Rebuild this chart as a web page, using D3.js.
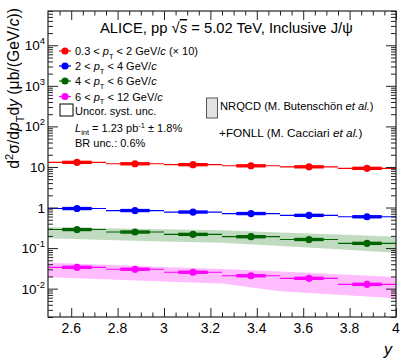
<!DOCTYPE html>
<html><head><meta charset="utf-8">
<script src="https://cdn.jsdelivr.net/npm/d3@7"></script>
<style>
body{margin:0;background:#fff;}
svg{display:block;font-family:"Liberation Sans",Arial,Helvetica,sans-serif;}
</style></head>
<body>
<svg id="c" width="407" height="362"></svg>
<script>
// ---------- data ----------
const binEdges = [2.5, 2.75, 3.0, 3.25, 3.5, 3.75, 4.0];
const binCenters = [2.625, 2.875, 3.125, 3.375, 3.625, 3.875];
const seriesNames = ["0.3 < pT < 2 GeV/c (× 10)", "2 < pT < 4 GeV/c", "4 < pT < 6 GeV/c", "6 < pT < 12 GeV/c"];
const seriesColors = ["#ff0000", "#0000ff", "#006400", "#ff00ff"];
const valsPt0 = [13.0, 12.0, 11.4, 10.7, 10.1, 9.25];
const valsPt1 = [0.945, 0.843, 0.774, 0.711, 0.642, 0.593];
const valsPt2 = [0.287, 0.249, 0.218, 0.191, 0.163, 0.131];
const valsPt3 = [0.0336, 0.0301, 0.0254, 0.0208, 0.0180, 0.0128];
const systRel = [0.05, 0.05, 0.05, 0.05];
// NRQCD+FONLL bands at bin edges
const bandPt2Hi = [0.325, 0.307, 0.290, 0.276, 0.243, 0.216, 0.191];
const bandPt2Lo = [0.174, 0.159, 0.146, 0.135, 0.112, 0.0931, 0.0769];
const bandPt3Hi = [0.0436, 0.0387, 0.0343, 0.0305, 0.0264, 0.0225, 0.0193];
const bandPt3Lo = [0.0191, 0.0170, 0.0151, 0.0134, 0.00859, 0.00704, 0.00577];
const bandColors = ["#c0dbbf", "#ffbcff"];
const xTickValues = [2.6, 2.8, 3.0, 3.2, 3.4, 3.6, 3.8, 4.0];
const xTickLabels = ["2.6", "2.8", "3", "3.2", "3.4", "3.6", "3.8", "4"];
const yTickValues = [1e-2, 1e-1, 1, 10, 1e2, 1e3, 1e4];
const yTickBase = ["10", "10", "1", "10", "10", "10", "10"];
const yTickExp = ["-2", "-1", "", "", "2", "3", "4"];
const xDomain = [2.5, 4.0];
const yDomain = [2e-3, 7e4];

// ---------- layout ----------
const L = 48, R = 396, T = 11, B = 317;
const svg = d3.select("#c");
const x = d3.scaleLinear().domain(xDomain).range([L, R]);
const y = d3.scaleLog().domain(yDomain).range([B, T]);

const gPlot = svg.append("g");
svg.append("clipPath").attr("id", "cl").append("rect")
  .attr("x", L).attr("y", T).attr("width", R - L).attr("height", B - T);
gPlot.attr("clip-path", "url(#cl)");

// bands
const bands = [[bandPt2Lo, bandPt2Hi], [bandPt3Lo, bandPt3Hi]];
bands.forEach((b, i) => {
  const area = d3.area().x((d, k) => x(binEdges[k])).y0((d, k) => y(b[0][k])).y1((d, k) => y(b[1][k]));
  gPlot.append("path").datum(binEdges).attr("d", area).attr("fill", bandColors[i]).attr("stroke", "none");
});

// series
const allVals = [valsPt0, valsPt1, valsPt2, valsPt3];
allVals.forEach((vals, s) => {
  const col = seriesColors[s];
  const g = gPlot.append("g");
  g.selectAll("line.xe").data(vals).enter().append("line")
    .attr("x1", (d, i) => x(binEdges[i])).attr("x2", (d, i) => x(binEdges[i + 1]))
    .attr("y1", d => y(d)).attr("y2", d => y(d))
    .attr("stroke", col).attr("stroke-width", 1.2);
  g.selectAll("rect.sy").data(vals).enter().append("rect")
    .attr("x", (d, i) => x(binCenters[i] - 0.06))
    .attr("width", (d, i) => x(binCenters[i] + 0.06) - x(binCenters[i] - 0.06))
    .attr("y", d => y(d * (1 + systRel[s])))
    .attr("height", d => y(d * (1 - systRel[s])) - y(d * (1 + systRel[s])))
    .attr("fill", "none").attr("stroke", col).attr("stroke-width", 1.6);
  g.selectAll("circle").data(vals).enter().append("circle")
    .attr("cx", (d, i) => x(binCenters[i])).attr("cy", d => y(d))
    .attr("r", 3.6).attr("fill", col);
});

// ---------- axes ----------
const axCol = "#222";
function styleAxis(g) {
  g.select(".domain").remove();
  g.selectAll("line").attr("stroke", axCol).attr("stroke-width", 1);
  g.selectAll("text").remove();
}
const xMinor = d3.range(2.55, 4.0, 0.05).filter(v => Math.abs(Math.round(v * 5) - v * 5) > 1e-6);
const yMinor = [];
for (let e = -3; e <= 4; e++) for (let m = 2; m <= 9; m++) { const v = m * Math.pow(10, e); if (v >= yDomain[0] && v <= yDomain[1]) yMinor.push(v); }

svg.append("g").attr("transform", `translate(0,${B})`).call(d3.axisBottom(x).tickValues(xTickValues).tickSize(-9)).call(styleAxis);
svg.append("g").attr("transform", `translate(0,${B})`).call(d3.axisBottom(x).tickValues(xMinor).tickSize(-4.5)).call(styleAxis);
svg.append("g").attr("transform", `translate(0,${T})`).call(d3.axisTop(x).tickValues(xTickValues).tickSize(-9)).call(styleAxis);
svg.append("g").attr("transform", `translate(0,${T})`).call(d3.axisTop(x).tickValues(xMinor).tickSize(-4.5)).call(styleAxis);
svg.append("g").attr("transform", `translate(${L},0)`).call(d3.axisLeft(y).tickValues(yTickValues).tickSize(-10)).call(styleAxis);
svg.append("g").attr("transform", `translate(${L},0)`).call(d3.axisLeft(y).tickValues(yMinor).tickSize(-5)).call(styleAxis);
svg.append("g").attr("transform", `translate(${R},0)`).call(d3.axisRight(y).tickValues(yTickValues).tickSize(-10)).call(styleAxis);
svg.append("g").attr("transform", `translate(${R},0)`).call(d3.axisRight(y).tickValues(yMinor).tickSize(-5)).call(styleAxis);

svg.append("rect").attr("x", L).attr("y", T).attr("width", R - L).attr("height", B - T)
  .attr("fill", "none").attr("stroke", axCol).attr("stroke-width", 1.2);

// x tick labels
svg.append("g").selectAll("text").data(xTickValues).enter().append("text")
  .attr("x", d => x(d)).attr("y", B + 16).attr("text-anchor", "middle")
  .attr("font-size", 14).attr("fill", "#000").text((d, i) => xTickLabels[i]);
// y tick labels
yTickValues.forEach((v, i) => {
  const t = svg.append("text").attr("x", 45).attr("y", y(v) + 5).attr("text-anchor", "end")
    .attr("font-size", 13.5).attr("fill", "#000");
  t.append("tspan").text(yTickBase[i]);
  if (yTickExp[i]) t.append("tspan").attr("font-size", 9.5).attr("dy", -6).text(yTickExp[i]);
});

// axis titles
svg.append("text").attr("x", 392).attr("y", 355).attr("text-anchor", "end")
  .attr("font-size", 16).attr("font-style", "italic").text("y");
const yt = svg.append("text").attr("transform", "translate(19,8) rotate(-90)")
  .attr("text-anchor", "end").attr("font-size", 15.7);
yt.append("tspan").text("d");
yt.append("tspan").attr("font-size", 11).attr("dy", -6).text("2");
yt.append("tspan").attr("dy", 6).text("σ/d");
yt.append("tspan").attr("font-style", "italic").text("p");
yt.append("tspan").attr("font-size", 11).attr("dy", 5).text("T");
yt.append("tspan").attr("dy", -5).text("d");
yt.append("tspan").attr("font-style", "italic").text("y");
yt.append("tspan").text(" (μb/(GeV/");
yt.append("tspan").attr("font-style", "italic").text("c");
yt.append("tspan").text("))");

// title
const tt = svg.append("text").attr("x", 100).attr("y", 33).attr("font-size", 14.8);
tt.append("tspan").text("ALICE, pp ");
tt.append("tspan").text("√");
tt.append("tspan").attr("font-style", "italic").attr("text-decoration", "overline").text("s");
tt.append("tspan").text(" = 5.02 TeV, Inclusive J/ψ");

// legend
const legFont = 11;
const legY = [51, 66, 81, 96.5];
seriesNames.forEach((nm, i) => {
  const col = seriesColors[i];
  svg.append("line").attr("x1", 59).attr("x2", 71).attr("y1", legY[i]).attr("y2", legY[i]).attr("stroke", col).attr("stroke-width", 1.2);
  svg.append("circle").attr("cx", 65).attr("cy", legY[i]).attr("r", 3.6).attr("fill", col);
  const parts = nm.split("pT");
  const t = svg.append("text").attr("x", 75).attr("y", legY[i] + 4).attr("font-size", legFont);
  t.append("tspan").text(parts[0]);
  t.append("tspan").attr("font-style", "italic").text("p");
  t.append("tspan").attr("font-size", 7.5).attr("dy", 3.5).text("T");
  const rest = parts[1].split("GeV/c");
  t.append("tspan").attr("dy", -3.5).text(rest[0] + "GeV/");
  t.append("tspan").attr("font-style", "italic").text("c");
  if (rest[1]) t.append("tspan").text(rest[1]);
});
svg.append("rect").attr("x", 60).attr("y", 104).attr("width", 13).attr("height", 12)
  .attr("fill", "none").attr("stroke", "#000").attr("stroke-width", 1);
svg.append("text").attr("x", 75).attr("y", 114.5).attr("font-size", legFont).text("Uncor. syst. unc.");
const lt = svg.append("text").attr("x", 75).attr("y", 132).attr("font-size", legFont);
lt.append("tspan").attr("font-style", "italic").text("L");
lt.append("tspan").attr("font-size", 7.5).attr("dy", 3).text("int");
lt.append("tspan").attr("dy", -3).text(" = 1.23 pb");
lt.append("tspan").attr("font-size", 7.5).attr("dy", -4.5).text("-1");
lt.append("tspan").attr("dy", 4.5).text(" ± 1.8%");
svg.append("text").attr("x", 75).attr("y", 147).attr("font-size", legFont).text("BR unc.: 0.6%");

svg.append("rect").attr("x", 206.5).attr("y", 98).attr("width", 11).attr("height", 20)
  .attr("fill", "#e3e3e3").attr("stroke", "#555").attr("stroke-width", 1);
const nt = svg.append("text").attr("x", 220).attr("y", 110).attr("font-size", 11.2);
nt.append("tspan").text("NRQCD (M. Butenschön ");
nt.append("tspan").attr("font-style", "italic").text("et al.");
nt.append("tspan").text(")");
const ft = svg.append("text").attr("x", 219).attr("y", 137).attr("font-size", 11.8);
ft.append("tspan").text("+FONLL (M. Cacciari ");
ft.append("tspan").attr("font-style", "italic").text("et al.");
ft.append("tspan").text(")");
</script>
</body></html>
